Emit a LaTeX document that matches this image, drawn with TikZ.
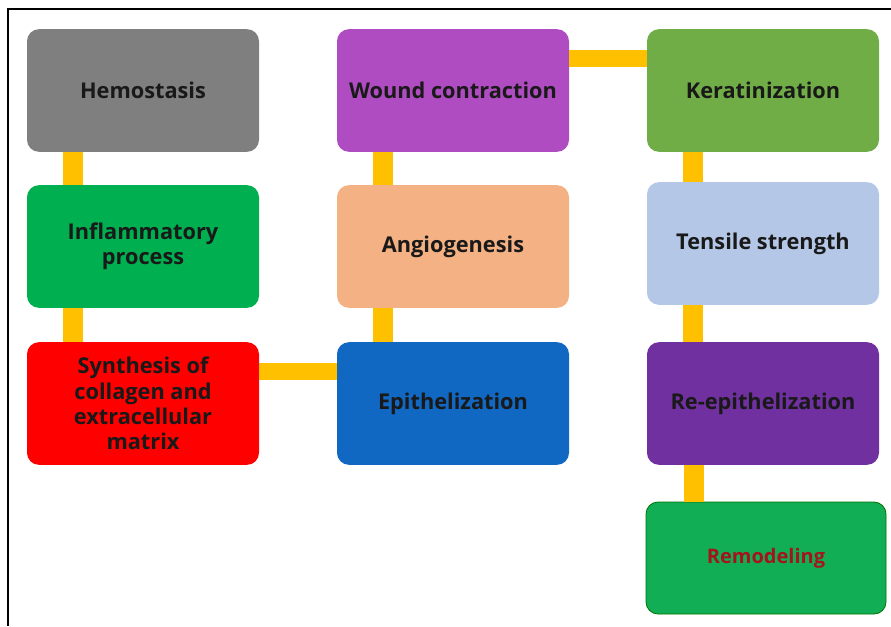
\documentclass[tikz,border=0pt]{standalone}
\usepackage{fontspec}
\setmainfont{Open Sans}
\definecolor{linkyellow}{HTML}{FFC000}
\definecolor{hemogray}{HTML}{7F7F7F}
\definecolor{inflgreen}{HTML}{00B050}
\definecolor{synred}{HTML}{FF0000}
\definecolor{woundpurple}{HTML}{B04CC2}
\definecolor{angiopeach}{HTML}{F4B183}
\definecolor{epiblue}{HTML}{1068C2}
\definecolor{keratgreen}{HTML}{70AD47}
\definecolor{tensileblue}{HTML}{B4C7E7}
\definecolor{repurple}{HTML}{7030A0}
\definecolor{remodgreen}{HTML}{12AE55}
\definecolor{remodtext}{HTML}{A3151B}
\begin{document}
\begin{tikzpicture}[x=0.75pt,y=-0.75pt,
	stage/.style={rounded corners=9pt, minimum width=174pt, minimum height=92pt, align=center, inner sep=2pt, font=\fontsize{16.3}{19}\selectfont\bfseries, text=black!90},
	link/.style={linkyellow, line width=15pt},
	hlink/.style={linkyellow, line width=13pt}]
			\useasboundingbox (0,0) rectangle (891,626);
			\draw[line width=1.2pt] (8,626) -- (8,9) -- (891,9);
			% first column
			\node[stage, fill=hemogray] (hemo) at (143,90.5) {Hemostasis};
			\node[stage, fill=inflgreen] (infl) at (143,246.5) {Inflammatory\\process};
			\node[stage, fill=synred] (synth) at (143,403.5) {Synthesis of\\collagen and\\extracellular\\matrix};
			% second column
			\node[stage, fill=woundpurple] (wound) at (453,90.5) {Wound contraction};
			\node[stage, fill=angiopeach] (angio) at (453,246.5) {Angiogenesis};
			\node[stage, fill=epiblue] (epi) at (453,403.5) {Epithelization};
			% third column
			\node[stage, fill=keratgreen] (kerat) at (763,90.5) {Keratinization};
			\node[stage, fill=tensileblue] (tensile) at (763,243.5) {Tensile strength};
			\node[stage, fill=repurple] (reepi) at (763,403.5) {Re-epithelization};
			\node[stage, fill=remodgreen, draw=green!45!black, line width=0.6pt, minimum width=180pt, minimum height=84pt, text=remodtext, font=\fontsize{15}{18}\selectfont\bfseries] (remod) at (766,558) {Remodeling};
			% connectors
			\draw[link] ([xshift=-52.5pt]hemo.south) -- ([xshift=-52.5pt]infl.north);
			\draw[link] ([xshift=-52.5pt]infl.south) -- ([xshift=-52.5pt]synth.north);
			\draw[hlink] ([yshift=24pt]synth.east) -- ([yshift=24pt]epi.west);
			\draw[link] ([xshift=-52.5pt]epi.north) -- ([xshift=-52.5pt]angio.south);
			\draw[link] ([xshift=-52.5pt]angio.north) -- ([xshift=-52.5pt]wound.south);
			\draw[hlink] ([yshift=24pt]wound.east) -- ([yshift=24pt]kerat.west);
			\draw[link] ([xshift=-52.5pt]kerat.south) -- ([xshift=-52.5pt]tensile.north);
			\draw[link] ([xshift=-52.5pt]tensile.south) -- ([xshift=-52.5pt]reepi.north);
			\draw[link] ([xshift=-51.75pt]reepi.south) -- ([xshift=-54pt]remod.north);
		\end{tikzpicture}
\end{document}
